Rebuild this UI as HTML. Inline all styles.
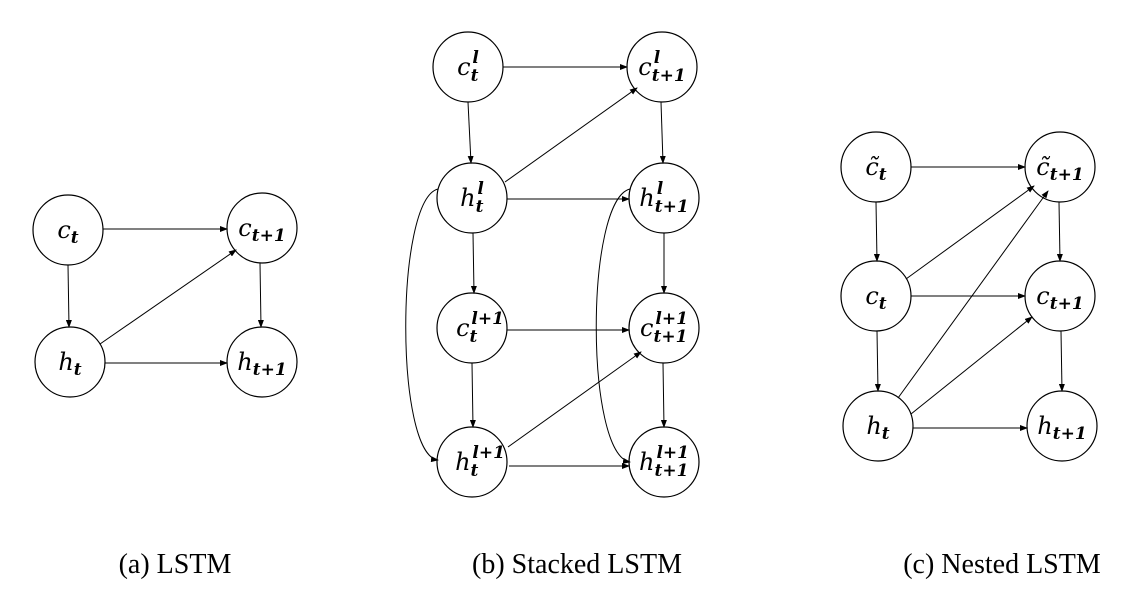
<!DOCTYPE html>
<html><head><style>
body{margin:0;background:#fff;width:1128px;height:597px;overflow:hidden}
svg text{font-family:"DejaVu Serif","Liberation Serif",serif;font-style:italic}
.cap{font-family:"Liberation Serif",serif;font-style:normal;font-size:28px}
.s{font-weight:bold}
</style></head><body>
<svg width="1128" height="597" viewBox="0 0 1128 597" xmlns="http://www.w3.org/2000/svg">
<defs><marker id="a" markerWidth="8" markerHeight="6" refX="7" refY="3" orient="auto" markerUnits="userSpaceOnUse"><path d="M0,0L8,3L0,6z" fill="#000"/></marker></defs>
<g fill="none" stroke="#000" stroke-width="1.2">
<circle cx="68" cy="230" r="35"/><circle cx="262" cy="228" r="35"/>
<circle cx="70" cy="362" r="35"/><circle cx="262" cy="362" r="35"/>
<circle cx="468" cy="67" r="35"/><circle cx="662" cy="67" r="35"/>
<circle cx="472" cy="198" r="35"/><circle cx="664" cy="198" r="35"/>
<circle cx="472" cy="328" r="35"/><circle cx="664" cy="328" r="35"/>
<circle cx="472" cy="462" r="35"/><circle cx="664" cy="462" r="35"/>
<circle cx="876" cy="167" r="35"/><circle cx="1060" cy="167" r="35"/>
<circle cx="876" cy="296" r="35"/><circle cx="1060" cy="296" r="35"/>
<circle cx="878" cy="426" r="35"/><circle cx="1062" cy="426" r="35"/>
</g>
<g stroke="#000" stroke-width="1" fill="none" marker-end="url(#a)">
<line x1="103" y1="229" x2="227" y2="229"/>
<line x1="68" y1="265" x2="69" y2="327"/>
<line x1="260" y1="263" x2="261" y2="327"/>
<line x1="100" y1="344" x2="236" y2="250"/>
<line x1="105" y1="363" x2="227" y2="363"/>
<line x1="503" y1="67" x2="627" y2="67"/>
<line x1="468" y1="102" x2="471" y2="163"/>
<line x1="661" y1="102" x2="663" y2="163"/>
<line x1="505" y1="182" x2="637" y2="88"/>
<line x1="507" y1="199" x2="629" y2="199"/>
<line x1="473" y1="233" x2="474" y2="293"/>
<line x1="664" y1="233" x2="664" y2="293"/>
<line x1="507" y1="330" x2="629" y2="330"/>
<line x1="472" y1="363" x2="473" y2="427"/>
<line x1="663" y1="363" x2="664" y2="427"/>
<line x1="508" y1="447" x2="641" y2="352"/>
<line x1="509" y1="466" x2="629" y2="466"/>
<path d="M438,189 C395,200 395,455 438,460"/>
<path d="M630,189 C585,200 585,455 630,462"/>
<line x1="911" y1="167" x2="1025" y2="167"/>
<line x1="876" y1="202" x2="877" y2="261"/>
<line x1="1059" y1="202" x2="1060" y2="261"/>
<line x1="906" y1="279" x2="1034" y2="186"/>
<line x1="911" y1="296" x2="1025" y2="296"/>
<line x1="877" y1="331" x2="878" y2="391"/>
<line x1="1061" y1="331" x2="1062" y2="391"/>
<line x1="898" y1="398" x2="1048" y2="191"/>
<line x1="911" y1="414" x2="1032" y2="317"/>
<line x1="913" y1="428" x2="1027" y2="428"/>
</g>
<g font-size="24" text-anchor="middle">
<text x="68" y="238">c<tspan class="s" font-size="17" dy="5">t</tspan></text>
<text x="262" y="236">c<tspan class="s" font-size="17" dy="5">t+1</tspan></text>
<text x="70" y="370">h<tspan class="s" font-size="17" dy="5">t</tspan></text>
<text x="262" y="370">h<tspan class="s" font-size="17" dy="5">t+1</tspan></text>
<text x="468" y="75">c<tspan class="s" font-size="17" dy="6">t</tspan><tspan class="s" font-size="17" dx="-6" dy="-18">l</tspan></text>
<text x="662" y="75">c<tspan class="s" font-size="17" dy="6">t+1</tspan><tspan class="s" font-size="17" dx="-32" dy="-18">l</tspan></text>
<text x="472" y="206">h<tspan class="s" font-size="17" dy="6">t</tspan><tspan class="s" font-size="17" dx="-6" dy="-18">l</tspan></text>
<text x="664" y="206">h<tspan class="s" font-size="17" dy="6">t+1</tspan><tspan class="s" font-size="17" dx="-32" dy="-18">l</tspan></text>
<text x="480" y="336">c<tspan class="s" font-size="17" dy="6">t</tspan><tspan class="s" font-size="17" dx="-6" dy="-18">l+1</tspan></text>
<text x="664" y="336">c<tspan class="s" font-size="17" dy="6">t+1</tspan><tspan class="s" font-size="17" dx="-32" dy="-18">l+1</tspan></text>
<text x="480" y="470">h<tspan class="s" font-size="17" dy="6">t</tspan><tspan class="s" font-size="17" dx="-6" dy="-18">l+1</tspan></text>
<text x="664" y="470">h<tspan class="s" font-size="17" dy="6">t+1</tspan><tspan class="s" font-size="17" dx="-32" dy="-18">l+1</tspan></text>
<text x="876" y="175">c̃<tspan class="s" font-size="17" dy="5">t</tspan></text>
<text x="1060" y="175">c̃<tspan class="s" font-size="17" dy="5">t+1</tspan></text>
<text x="876" y="304">c<tspan class="s" font-size="17" dy="5">t</tspan></text>
<text x="1060" y="304">c<tspan class="s" font-size="17" dy="5">t+1</tspan></text>
<text x="878" y="434">h<tspan class="s" font-size="17" dy="5">t</tspan></text>
<text x="1062" y="434">h<tspan class="s" font-size="17" dy="5">t+1</tspan></text>
</g>
<text class="cap" x="175" y="573" text-anchor="middle">(a) LSTM</text>
<text class="cap" x="577" y="573" text-anchor="middle">(b) Stacked LSTM</text>
<text class="cap" x="1002" y="573" text-anchor="middle">(c) Nested LSTM</text>
</svg>
</body></html>
